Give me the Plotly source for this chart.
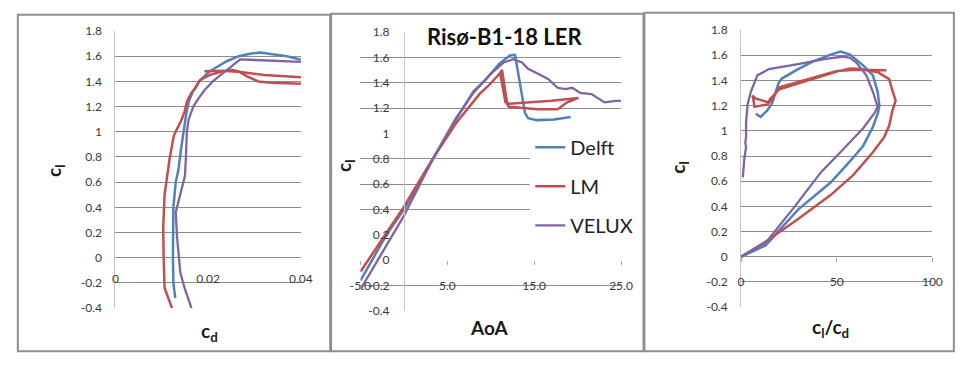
import plotly.graph_objects as go

W, H = 960, 365

# ---------------- data ----------------
series_names = ["Delft", "LM", "VELUX"]
series_colors = ["#4F81BD", "#C0504D", "#8064A2"]

# panel 1: cl vs cd
delft_cd = [0.0129, 0.0125, 0.0124, 0.0124, 0.0125, 0.0130, 0.0136, 0.0141, 0.0147, 0.0153, 0.0159,
            0.0167, 0.0181, 0.0200, 0.0217, 0.0240, 0.0266, 0.0290, 0.0312, 0.0340, 0.0370, 0.0402]
delft_cl_cd = [-0.32, -0.20, 0.00, 0.20, 0.40, 0.60, 0.70, 0.85, 1.00, 1.15, 1.25,
               1.32, 1.40, 1.47, 1.51, 1.56, 1.60, 1.62, 1.63, 1.615, 1.60, 1.57]
lm_cd = [0.0122, 0.0106, 0.0104, 0.0103, 0.0106, 0.0111, 0.0117, 0.0126, 0.0143, 0.0150, 0.0154,
         0.0164, 0.0171, 0.0182, 0.0203, 0.0231, 0.0252, 0.0266, 0.0284, 0.0308, 0.0336, 0.0403,
         0.0460, 0.0460, 0.0403, 0.0322, 0.0270, 0.0231, 0.0192]
lm_cl_cd = [-0.40, -0.24, 0.00, 0.24, 0.50, 0.65, 0.79, 0.97, 1.10, 1.17, 1.24,
            1.31, 1.34, 1.41, 1.45, 1.48, 1.49, 1.48, 1.44, 1.40, 1.39, 1.38,
            1.37, 1.42, 1.43, 1.45, 1.475, 1.485, 1.48]
velux_cd = [0.0164, 0.0150, 0.0140, 0.0135, 0.0133, 0.0130, 0.0147, 0.0150, 0.0152, 0.0154, 0.0158,
            0.0168, 0.0180, 0.0192, 0.0210, 0.0231, 0.0250, 0.0269, 0.0300, 0.0350, 0.0402]
velux_cl_cd = [-0.40, -0.25, -0.12, 0.05, 0.16, 0.36, 0.60, 0.65, 0.80, 1.00, 1.10,
               1.20, 1.27, 1.33, 1.40, 1.46, 1.52, 1.575, 1.57, 1.56, 1.555]

# panel 2: cl vs AoA
delft_aoa = [-5.0, -2.0, 0.0, 3.5, 6.0, 8.0, 9.5, 11.0, 12.2, 12.8, 13.4, 13.95, 14.3, 15.3, 17.3, 19.2]
delft_cl_aoa = [-0.16, 0.20, 0.40, 0.82, 1.11, 1.33, 1.43, 1.55, 1.615, 1.62, 1.38, 1.16, 1.12, 1.105, 1.11, 1.13]
lm_aoa = [-5.0, 0.0, 3.5, 6.0, 8.7, 9.8, 11.0, 11.3, 11.9, 12.1, 15.45, 17.7, 18.8, 20.1, 17.0, 12.1, 11.7, 11.1]
lm_cl_aoa = [-0.09, 0.42, 0.82, 1.08, 1.31, 1.38, 1.47, 1.50, 1.23, 1.21, 1.19, 1.19, 1.245, 1.28, 1.257, 1.235, 1.245, 1.47]
velux_aoa = [-5.0, 0.0, 3.5, 6.0, 8.0, 10.0, 11.5, 12.6, 13.6, 14.3, 15.45, 16.6, 17.7, 18.6, 19.4,
             20.3, 21.6, 23.1, 24.4, 25.0]
velux_cl_aoa = [-0.23, 0.35, 0.82, 1.12, 1.32, 1.47, 1.56, 1.585, 1.56, 1.51, 1.47, 1.43, 1.36, 1.35, 1.36,
                1.32, 1.31, 1.245, 1.257, 1.257]

# panel 3: cl vs cl/cd
delft_ld = [0, 12.8, 29.8, 46.8, 57.0, 63.8, 68.9, 71.5, 72.3, 71.4, 68.9, 63.8, 57.0, 51.9, 46.8,
            38.3, 29.8, 21.3, 19.6, 16.2, 13.6, 10.2, 7.7]
delft_cl_ld = [0, 0.09, 0.375, 0.59, 0.76, 0.88, 1.03, 1.14, 1.20, 1.31, 1.44, 1.52, 1.605, 1.63, 1.605,
               1.555, 1.49, 1.415, 1.38, 1.22, 1.16, 1.11, 1.135]
lm_ld = [0, 12.8, 29.8, 46.8, 58.7, 68.9, 74.8, 77.4, 79.1, 80.8, 79.1, 77.4, 71.4, 62.1, 57.0,
         50.0, 20.0, 15.0, 14.0, 8.0, 7.0, 6.5, 6.0, 7.5, 14.5, 16.0, 20.0, 50.0, 60.0, 76.0]
lm_cl_ld = [0, 0.12, 0.30, 0.49, 0.65, 0.83, 0.95, 1.04, 1.16, 1.24, 1.32, 1.41, 1.465, 1.49, 1.495,
            1.47, 1.33, 1.25, 1.21, 1.19, 1.19, 1.245, 1.28, 1.257, 1.225, 1.245, 1.345, 1.475, 1.485, 1.48]
velux_ld = [0, 12.8, 28.1, 41.7, 51.9, 63.8, 69.7, 71.4, 68.9, 65.5, 60.4, 57.0, 53.6, 43.4, 29.8,
            14.5, 8.5, 5.1, 3.4, 2.6, 2.6, 2.2, 2.6, 1.7, 0.9]
velux_cl_ld = [0, 0.11, 0.40, 0.67, 0.83, 1.02, 1.14, 1.19, 1.31, 1.44, 1.54, 1.58, 1.59, 1.57, 1.53,
               1.49, 1.44, 1.31, 1.21, 1.06, 0.95, 0.91, 0.87, 0.78, 0.63]

# axis ticks / labels
cl_ticks = [-0.4, -0.2, 0, 0.2, 0.4, 0.6, 0.8, 1.0, 1.2, 1.4, 1.6, 1.8]
cl_labels = ["-0.4", "-0.2", "0", "0.2", "0.4", "0.6", "0.8", "1", "1.2", "1.4", "1.6", "1.8"]
cd_ticks = [0, 0.02, 0.04]
cd_labels = ["0", "0.02", "0.04"]
aoa_ticks = [-5, 5, 15, 25]
aoa_labels = ["-5.0", "5.0", "15.0", "25.0"]
ld_ticks = [0, 50, 100]
ld_labels = ["0", "50", "100"]
aoa_grid = [-0.4, -0.2, 0.4, 0.6, 0.8, 1.2, 1.4, 1.6, 1.8]   # gridlines visible in middle panel

chart_title = "Risø-B1-18 LER"

# ---------------- layout helpers ----------------
def px(x):
    return x / W

def py(y):
    return 1 - y / H

CL_RANGE = [-0.4, 1.8]
FONT = "Lato"
GRID = "#8c8c8c"
AXLINE = "#c4c4c4"
TICKFONT = dict(family=FONT, size=12, color="#3a3a3a")

# plot areas in pixels (left, right, top, bottom)
P1 = (107, 297, 24, 313)
P2 = (358, 625, 25, 316)
P3 = (748, 944, 23, 312)

def ydom(p):
    return [py(p[3]), py(p[2])]

def xdom(p):
    return [px(p[0]), px(p[1])]

def zero_pos(dom, rng):
    return dom[0] + (0 - rng[0]) / (rng[1] - rng[0]) * (dom[1] - dom[0])

fig = go.Figure()

panels = [
    ("x", "y", [delft_cd, lm_cd, velux_cd], [delft_cl_cd, lm_cl_cd, velux_cl_cd], False),
    ("x2", "y2", [delft_aoa, lm_aoa, velux_aoa], [delft_cl_aoa, lm_cl_aoa, velux_cl_aoa], True),
    ("x3", "y3", [delft_ld, lm_ld, velux_ld], [delft_cl_ld, lm_cl_ld, velux_cl_ld], False),
]
for xa, ya, xs, ys, showleg in panels:
    for i, name in enumerate(series_names):
        fig.add_trace(go.Scatter(
            x=xs[i], y=ys[i], mode="lines", name=name, xaxis=xa, yaxis=ya,
            line=dict(color=series_colors[i], width=2.5 if name != "VELUX" else 2.3),
            showlegend=showleg, legendgroup=name, hoverinfo="skip"))

common_y = dict(range=CL_RANGE, tickvals=cl_ticks, ticktext=cl_labels, tickfont=TICKFONT,
                showgrid=True, gridcolor=GRID, gridwidth=1, zeroline=False, ticks="",
                showline=True, linecolor=AXLINE, linewidth=1, fixedrange=True)
common_x = dict(showgrid=False, zeroline=False, showline=False, tickfont=TICKFONT,
                fixedrange=True)

d1y, d2y, d3y = ydom(P1), ydom(P2), ydom(P3)
d1x, d2x, d3x = xdom(P1), xdom(P2), xdom(P3)
aoa_range = [-5, 25]

fig.update_layout(
    width=W, height=H, margin=dict(l=0, r=0, t=0, b=0),
    paper_bgcolor="white", plot_bgcolor="white",
    font=dict(family=FONT, color="#222"),
    xaxis=dict(domain=d1x, range=[0, 0.04], tickvals=cd_ticks, ticktext=cd_labels,
               anchor="free", position=zero_pos(d1y, CL_RANGE), ticks="",
               ticklabelstandoff=12, **common_x),
    yaxis=dict(domain=d1y, anchor="x", ticklabelstandoff=10, **common_y),
    xaxis2=dict(domain=d2x, range=aoa_range, tickvals=aoa_ticks, ticktext=aoa_labels,
                anchor="free", position=zero_pos(d2y, CL_RANGE), ticks="outside", ticklen=4,
                tickcolor="#aaaaaa", ticklabelstandoff=10, **common_x),
    yaxis2=dict(domain=d2y, anchor="x2", range=CL_RANGE, tickvals=aoa_grid, showticklabels=False,
                showgrid=True, gridcolor=GRID, gridwidth=1, zeroline=False, ticks="",
                showline=False, fixedrange=True),
    yaxis4=dict(overlaying="y2", anchor="free", position=zero_pos(d2x, aoa_range),
                range=CL_RANGE, tickvals=cl_ticks, ticktext=cl_labels, tickfont=TICKFONT,
                showgrid=False, zeroline=False, ticks="", showline=True, linecolor=AXLINE,
                linewidth=1, ticklabelstandoff=12, fixedrange=True),
    xaxis3=dict(domain=d3x, range=[0, 100], tickvals=ld_ticks, ticktext=ld_labels,
                anchor="free", position=zero_pos(d3y, CL_RANGE), ticks="outside", ticklen=4,
                tickcolor="#aaaaaa", ticklabelstandoff=10, **common_x),
    yaxis3=dict(domain=d3y, anchor="x3", ticklabelstandoff=10, **common_y),
    legend=dict(x=px(532), y=py(125), xanchor="left", yanchor="top", bgcolor="white",
                borderwidth=0, font=dict(family=FONT, size=20, color="#222"),
                traceorder="grouped", tracegroupgap=10, itemwidth=30),
    showlegend=True,
)

# invisible anchor trace so the label axis of the middle panel is drawn
fig.add_trace(go.Scatter(x=[None], y=[None], xaxis="x2", yaxis="y4", showlegend=False,
                         hoverinfo="skip", mode="lines"))

# panel frames
frames = [(7, 7, 327, 358), (328, 6, 648, 358), (649, 5, 966, 358)]
for x0, y0, x1, y1 in frames:
    fig.add_shape(type="rect", xref="paper", yref="paper", x0=px(x0), x1=px(x1), y0=py(y1), y1=py(y0),
                  line=dict(color="#8f8f8f", width=2), fillcolor="rgba(0,0,0,0)", layer="above")

TITLE_FONT = dict(family=FONT, size=19, color="#1a1a1a")
ann = [
    ("<b>c<sub>l</sub></b>", 45, 170, -90),
    ("<b>c<sub>d</sub></b>", 203, 338, 0),
    ("<b>c<sub>l</sub></b>", 342, 165, -90),
    ("<b>AoA</b>", 490, 333, 0),
    ("<b>c<sub>l</sub></b>", 685, 167, -90),
    ("<b>c<sub>l</sub>/c<sub>d</sub></b>", 840, 334, 0),
]
for text, x, y, ang in ann:
    fig.add_annotation(text=text, xref="paper", yref="paper", x=px(x), y=py(y), showarrow=False,
                       textangle=ang, font=TITLE_FONT, xanchor="center", yanchor="middle")

fig.add_annotation(text="&nbsp;&nbsp;&nbsp;<b>" + chart_title + "</b>&nbsp;&nbsp;&nbsp;", xref="paper", yref="paper",
                   x=px(505), y=py(30), showarrow=False, bgcolor="white", borderpad=0,
                   font=dict(family=FONT, size=22, color="#111"), xanchor="center", yanchor="middle")

fig.write_html("out.html")
